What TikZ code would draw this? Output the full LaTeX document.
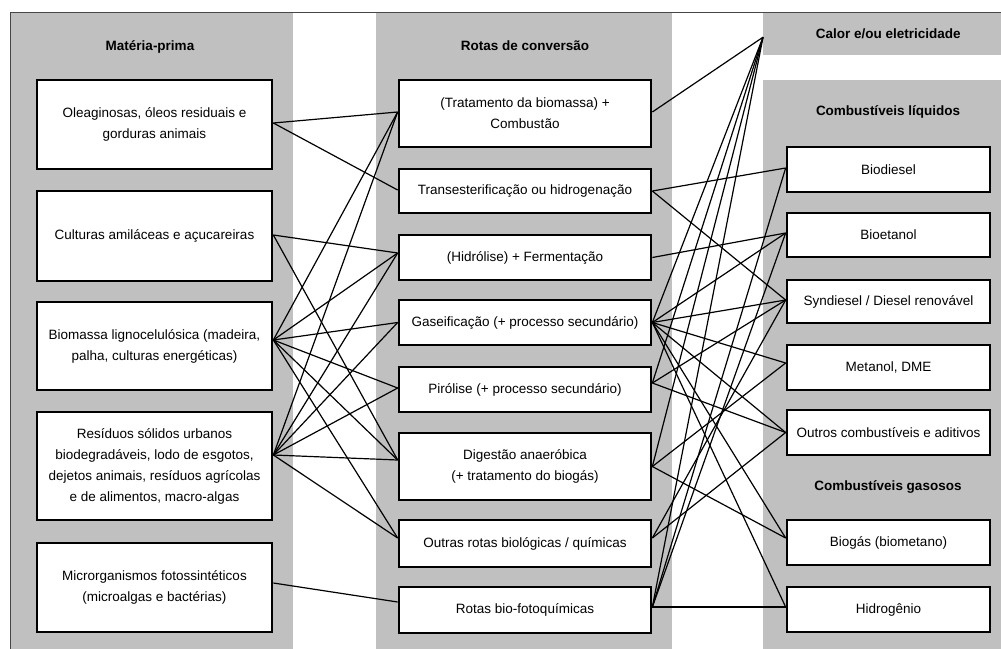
\documentclass[tikz,border=0pt]{standalone}
\usepackage{fontspec}
\setmainfont{Liberation Sans}
\definecolor{panel}{RGB}{192,192,192}
\definecolor{frame}{RGB}{70,70,70}
\begin{document}
\begin{tikzpicture}[x=1pt,y=-1pt,
  box/.style={draw=black, line width=2.7pt, fill=white, align=center, inner sep=1pt,
              font=\fontsize{13.5}{21}\selectfont},
  lbox/.style={box, minimum width=235pt},
  mbox/.style={box, minimum width=252pt},
  rbox/.style={box, minimum width=203pt},
  head/.style={font=\bfseries\fontsize{13.5}{16}\selectfont},
  link/.style={line width=1.2pt, black}]
\useasboundingbox (0,0) rectangle (1001,648);
\clip (0,0) rectangle (1001,648);
\fill[white] (0,0) rectangle (1001,648);
% panels
\fill[panel] (10,12) rectangle (293,660);
\fill[panel] (376,12) rectangle (672,660);
\fill[panel] (763,80) rectangle (1010,660);
\node[fill=panel, minimum width=238pt, minimum height=43pt, anchor=north west, inner sep=0pt,
      head] (calor) at (763,12) {\hspace*{12pt}Calor e/ou eletricidade};
\draw[frame, line width=1pt] (10,660) -- (10,12) -- (1010,12);
% headers
\node[head] (hL) at (150,47) {Matéria-prima};
\node[head] (hM) at (525,46) {Rotas de conversão};
\node[head] (hLiq) at (888,112) {Combustíveis líquidos};
\node[head] (hGas) at (888,487) {Combustíveis gasosos};
% feedstock
\node[lbox, minimum height=89pt] (L1) at (154.5,124.5) {Oleaginosas, óleos residuais e\\gorduras animais};
\node[lbox, minimum height=90pt] (L2) at (154.5,236) {Culturas amiláceas e açucareiras};
\node[lbox, minimum height=88pt] (L3) at (154.5,346) {Biomassa lignocelulósica (madeira,\\palha, culturas energéticas)};
\node[lbox, minimum height=108pt] (L4) at (154.5,466) {Resíduos sólidos urbanos\\biodegradáveis, lodo de esgotos,\\dejetos animais, resíduos agrícolas\\e de alimentos, macro-algas};
\node[lbox, minimum height=89pt] (L5) at (154.5,587.5) {Microrganismos fotossintéticos\\(microalgas e bactérias)};
% conversion routes
\node[mbox, minimum height=67pt] (M1) at (525,113.5) {(Tratamento da biomassa) +\\Combustão};
\node[mbox, minimum height=44pt] (M2) at (525,191) {Transesterificação ou hidrogenação};
\node[mbox, minimum height=45pt] (M3) at (525,257.5) {(Hidrólise) + Fermentação};
\node[mbox, minimum height=45pt] (M4) at (525,322.5) {Gaseificação (+ processo secundário)};
\node[mbox, minimum height=45pt] (M5) at (525,389.5) {Pirólise (+ processo secundário)};
\node[mbox, minimum height=67pt] (M6) at (525,466.5) {Digestão anaeróbica\\(+ tratamento do biogás)};
\node[mbox, minimum height=47pt] (M7) at (525,543.5) {Outras rotas biológicas / químicas};
\node[mbox, minimum height=46pt] (M8) at (525,610) {Rotas bio-fotoquímicas};
% products
\node[rbox, minimum height=45pt] (R1) at (888.5,169.5) {Biodiesel};
\node[rbox, minimum height=44pt] (R2) at (888.5,235) {Bioetanol};
\node[rbox, minimum height=43pt] (R3) at (888.5,301.5) {Syndiesel / Diesel renovável};
\node[rbox, minimum height=45pt] (R4) at (888.5,367.5) {Metanol, DME};
\node[rbox, minimum height=45pt] (R5) at (888.5,432.5) {Outros combustíveis e aditivos};
\node[rbox, minimum height=45pt] (R6) at (888.5,542.5) {Biogás (biometano)};
\node[rbox, minimum height=45pt] (R7) at (888.5,609.5) {Hidrogênio};
% anchor points
\coordinate (L1e) at ([yshift=1.5pt]L1.east);
\coordinate (L2e) at ([yshift=1pt]L2.east);
\coordinate (L3e) at ([yshift=6pt]L3.east);
\coordinate (L4e) at ([yshift=11pt]L4.east);
\coordinate (L5e) at ([yshift=4.5pt]L5.east);
\coordinate (M1w) at ([yshift=1.5pt]M1.west);
\coordinate (M2w) at ([yshift=1pt]M2.west);
\coordinate (M3w) at ([yshift=4.5pt]M3.west);
\coordinate (M4w) at (M4.west);
\coordinate (M5w) at ([yshift=1.5pt]M5.west);
\coordinate (M6w) at ([yshift=6.5pt]M6.west);
\coordinate (M7w) at ([yshift=5.5pt]M7.west);
\coordinate (M8w) at ([yshift=8pt]M8.west);
\coordinate (M1e) at ([yshift=1.5pt]M1.east);
\coordinate (M2e) at (M2.east);
\coordinate (M3e) at (M3.east);
\coordinate (M4e) at (M4.east);
\coordinate (M5e) at ([yshift=6.5pt]M5.east);
\coordinate (M6e) at (M6.east);
\coordinate (M7e) at ([yshift=5.5pt]M7.east);
\coordinate (M8e) at ([yshift=3pt]M8.east);
\coordinate (R1w) at ([yshift=1.5pt]R1.west);
\coordinate (R2w) at ([yshift=2pt]R2.west);
\coordinate (R3w) at ([yshift=1.5pt]R3.west);
\coordinate (R4w) at ([yshift=4.5pt]R4.west);
\coordinate (R5w) at (R5.west);
\coordinate (R6w) at ([yshift=4.5pt]R6.west);
\coordinate (R7w) at ([yshift=2.5pt]R7.west);
\coordinate (Cw) at ([yshift=-3.5pt]calor.west);
% feedstock -> routes
\draw[link] (L1e) -- (M1w);
\draw[link] (L1e) -- (M2w);
\draw[link] (L2e) -- (M3w);
\draw[link] (L2e) -- (M6w);
\foreach \m in {M1w,M3w,M4w,M5w,M6w,M7w} {
  \draw[link] (L3e) -- (\m);
  \draw[link] (L4e) -- (\m);
}
\draw[link] (L5e) -- (M8w);
% routes -> products
\draw[link] (M1e) -- (Cw);
\draw[link] (M2e) -- (R1w);
\draw[link] (M2e) -- (R3w);
\draw[link] (M3e) -- (R2w);
\foreach \r in {Cw,R2w,R3w,R4w,R5w,R6w,R7w} { \draw[link] (M4e) -- (\r); }
\foreach \r in {Cw,R3w,R5w} { \draw[link] (M5e) -- (\r); }
\foreach \r in {Cw,R4w,R6w} { \draw[link] (M6e) -- (\r); }
\foreach \r in {R3w,R5w} { \draw[link] (M7e) -- (\r); }
\foreach \r in {Cw,R1w,R2w,R7w} { \draw[link] (M8e) -- (\r); }
\end{tikzpicture}
\end{document}
